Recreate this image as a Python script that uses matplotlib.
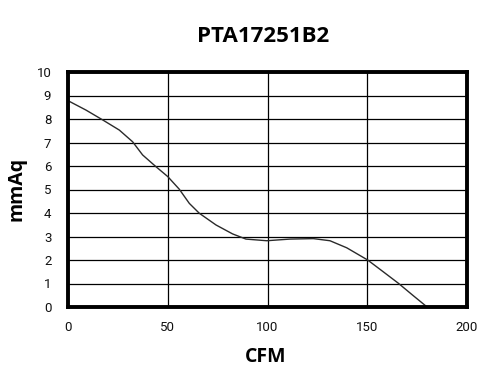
import matplotlib.pyplot as plt

# fan curve
cfm = [0, 9.0, 17.4, 25.7, 32.4, 37.4, 44.1, 50, 55.8, 60.8, 65.8, 74.2, 82.5, 89.2,
       99.6, 111.3, 123, 131.3, 139.7, 150.2, 158, 165.6, 173.1, 180]
mmaq = [8.78, 8.38, 7.96, 7.53, 7.03, 6.47, 5.97, 5.55, 5.01, 4.41, 3.99, 3.49, 3.11, 2.89,
        2.82, 2.89, 2.91, 2.82, 2.52, 2.0, 1.5, 1.01, 0.48, 0]
x_ticks = [0, 50, 100, 150, 200]
y_ticks = list(range(0, 11))

W, H = 497, 382


def main():
    fig = plt.figure(figsize=(W / 100, H / 100), dpi=100)
    ax = fig.add_axes([68 / W, 1 - 307 / H, (467 - 68) / W, (307 - 72) / H])

    ax.plot(cfm, mmaq, color="#2a2a2a", linewidth=1.0)

    ax.set_xlim(0, 200)
    ax.set_ylim(0, 10)
    ax.set_xticks(x_ticks)
    ax.set_yticks(y_ticks)
    ax.grid(True, color="black", linewidth=0.9)
    ax.tick_params(length=0, labelsize=9.5, colors="#111111")
    ax.tick_params(axis="y", pad=12)
    ax.tick_params(axis="x", pad=10)
    for lab in ax.get_xticklabels() + ax.get_yticklabels():
        lab.set_family("Roboto")
    for s in ax.spines.values():
        s.set_linewidth(2.8)

    fig.text(266 / W, 1 - 357 / H, "CFM", fontsize=14, fontweight="bold",
             family="Open Sans", ha="center", va="center")
    fig.text(17 / W, 1 - 189 / H, "mmAq", fontsize=14, fontweight="bold",
             family="Open Sans", ha="center", va="center", rotation=90)
    fig.text(263 / W, 1 - 37 / H, "PTA17251B2", fontsize=16, fontweight="bold",
             family="Open Sans", ha="center", va="center")

    fig.savefig("out.png", dpi=100)


if __name__ == "__main__":
    main()
